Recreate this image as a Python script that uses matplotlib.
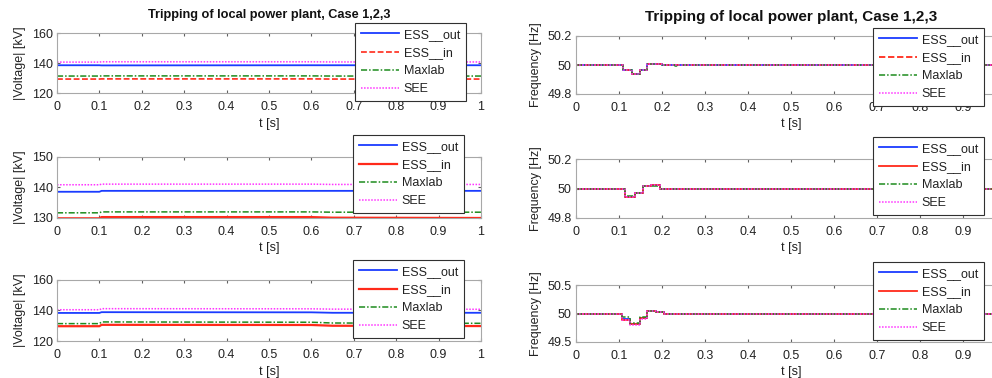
import matplotlib
matplotlib.use("Agg")
import matplotlib.pyplot as plt

plt.rcParams['font.family'] = ['Liberation Sans', 'DejaVu Sans']

W, H = 992, 378

title = "Tripping of local power plant, Case 1,2,3"
series_names = ["ESS__out", "ESS__in", "Maxlab", "SEE"]

# ---- Voltage data (kV) ----
t_v = [0.0, 0.1, 0.105, 0.6, 0.65, 1.0]
v1_out = [138.5, 138.5, 138.4, 138.5, 138.5, 138.5]
v1_in = [129.3, 129.3, 129.4, 129.4, 129.3, 129.3]
v1_max = [131.3, 131.3, 131.4, 131.4, 131.3, 131.3]
v1_see = [140.6, 140.6, 140.8, 140.8, 140.7, 140.7]

v2_out = [138.6, 138.6, 138.9, 138.9, 138.9, 138.9]
v2_in = [129.9, 129.9, 130.3, 130.3, 130.1, 130.0]
v2_max = [131.7, 131.7, 132.0, 132.0, 131.9, 131.9]
v2_see = [140.9, 140.9, 141.1, 141.1, 141.0, 141.0]

v3_out = [138.4, 138.4, 138.9, 138.8, 138.5, 138.5]
v3_in = [129.7, 129.7, 130.6, 130.5, 130.0, 129.8]
v3_max = [131.4, 131.4, 132.5, 132.3, 131.8, 131.6]
v3_see = [140.5, 140.5, 141.2, 141.1, 140.9, 140.8]

# ---- Frequency data (Hz), step-wise ----
t_f1 = [0.0, 0.109, 0.13, 0.149, 0.165, 0.2, 0.23, 0.24, 1.0]
f1_out = [50.0, 49.965, 49.936, 49.965, 50.007, 50.0, 50.0, 50.0, 50.0]
f1_in = [50.0, 49.967, 49.938, 49.967, 50.008, 50.0, 50.0, 50.0, 50.0]
f1_max = [50.0, 49.968, 49.94, 49.968, 50.01, 50.0, 49.99, 50.0, 50.0]
f1_see = [50.0, 49.965, 49.936, 49.965, 50.007, 50.0, 50.0, 50.0, 50.0]

t_f2 = [0.0, 0.114, 0.137, 0.156, 0.175, 0.195, 1.0]
f2_out = [50.0, 49.945, 49.967, 50.015, 50.025, 50.0, 50.0]
f2_in = [50.0, 49.945, 49.967, 50.015, 50.022, 50.0, 50.0]
f2_max = [50.0, 49.948, 49.968, 50.015, 50.02, 50.0, 50.0]
f2_see = [50.0, 49.945, 49.967, 50.015, 50.022, 50.0, 50.0]

t_f3 = [0.0, 0.106, 0.126, 0.149, 0.165, 0.185, 0.205, 1.0]
f3_out = [50.0, 49.91, 49.82, 49.92, 50.05, 50.03, 50.0, 50.0]
f3_in = [50.0, 49.88, 49.82, 49.92, 50.04, 50.02, 50.0, 50.0]
f3_max = [50.0, 49.93, 49.84, 49.93, 50.05, 50.03, 50.0, 50.0]
f3_see = [50.0, 49.89, 49.80, 49.91, 50.05, 50.03, 50.0, 50.0]

x_ticks = [0, 0.1, 0.2, 0.3, 0.4, 0.5, 0.6, 0.7, 0.8, 0.9, 1]
x_ticklabels = ["0", "0.1", "0.2", "0.3", "0.4", "0.5", "0.6", "0.7", "0.8", "0.9", "1"]
# the right-hand panels run past the figure edge, their last label is not visible
x_ticklabels_right = ["0", "0.1", "0.2", "0.3", "0.4", "0.5", "0.6", "0.7", "0.8", "0.9", ""]

v_ylims = [(120, 160), (130, 150), (120, 160)]
v_yticks = [[120, 140, 160], [130, 140, 150], [120, 140, 160]]
f_ylims = [(49.8, 50.2), (49.8, 50.2), (49.5, 50.5)]
f_yticks = [[49.8, 50, 50.2], [49.8, 50, 50.2], [49.5, 50, 50.5]]
f_yticklabels = [["49.8", "50", "50.2"], ["49.8", "50", "50.2"], ["49.5", "50", "50.5"]]

volt = [(v1_out, v1_in, v1_max, v1_see), (v2_out, v2_in, v2_max, v2_see), (v3_out, v3_in, v3_max, v3_see)]
freq = [(t_f1, f1_out, f1_in, f1_max, f1_see), (t_f2, f2_out, f2_in, f2_max, f2_see),
        (t_f3, f3_out, f3_in, f3_max, f3_see)]

C_BLUE = "#1a3cff"
C_RED = "#ff2a1a"
C_GREEN = "#1e8c1e"
C_MAG = "#ff33ff"

fig = plt.figure(figsize=(W / 100, H / 100), dpi=100)


def ax_at(x0, y0, x1, y1):
    return fig.add_axes([x0 / W, 1 - y1 / H, (x1 - x0) / W, (y1 - y0) / H])


def style(ax):
    for s in ax.spines.values():
        s.set_color("#a8a8a8")
        s.set_linewidth(0.8)
    ax.tick_params(direction="in", length=2.5, width=0.8, color="#606060",
                   labelsize=9, labelcolor="#222222", top=True, right=True)
    ax.tick_params(axis="x", pad=6)
    ax.tick_params(axis="y", pad=3)


def legend(ax, x0, y0):
    lg = ax.legend(loc="upper left", bbox_to_anchor=(x0 / W, 1 - y0 / H),
                   bbox_transform=fig.transFigure, borderaxespad=0, fontsize=9,
                   handlelength=3.1, handletextpad=0.35, labelspacing=0.5,
                   borderpad=0.45, fancybox=False, framealpha=1)
    lg.get_frame().set_edgecolor("#303030")
    lg.get_frame().set_linewidth(0.8)
    for tx in lg.get_texts():
        tx.set_color("#222222")
    return lg


left_boxes = [(57, 33, 481, 93), (57, 157, 481, 218), (57, 280, 481, 341)]
right_boxes = [(576, 36, 1006, 94), (576, 159, 1006, 218), (576, 285, 1006, 342)]
left_leg = [(355, 23), (353, 135), (353, 260)]
right_leg = [(873, 28), (873, 137), (873, 262)]

for i in range(3):
    # voltage panel
    ax = ax_at(*left_boxes[i])
    vo, vi, vm, vs = volt[i]
    in_solid = i > 0
    ax.plot(t_v, vo, color=C_BLUE, lw=1.3, label=series_names[0])
    ax.plot(t_v, vi, color=C_RED, lw=1.6 if in_solid else 1.2,
            ls="-" if in_solid else (0, (3.5, 1.5)), label=series_names[1])
    ax.plot(t_v, vm, color=C_GREEN, lw=1.1, ls=(0, (4, 1.3, 1, 1.3)), label=series_names[2])
    ax.plot(t_v, vs, color=C_MAG, lw=1.1, ls=(0, (1, 1)), label=series_names[3])
    ax.set_xlim(0, 1)
    ax.set_ylim(*v_ylims[i])
    ax.set_xticks(x_ticks)
    ax.set_xticklabels(x_ticklabels)
    ax.set_yticks(v_yticks[i])
    style(ax)
    ax.set_ylabel("|Voltage| [kV]", fontsize=9, color="#222222", labelpad=4)
    ax.set_xlabel("t [s]", fontsize=9, color="#222222", labelpad=3)
    if i == 0:
        ax.set_title(title, fontsize=9.2, fontweight="bold", color="#111111", pad=11)
    legend(ax, *left_leg[i])

    # frequency panel
    ax = ax_at(*right_boxes[i])
    tf, fo, fi, fm, fs = freq[i]
    ax.plot(tf, fo, color=C_BLUE, lw=1.3, drawstyle="steps-post", label=series_names[0])
    ax.plot(tf, fi, color=C_RED, lw=1.3, drawstyle="steps-post",
            ls="-" if in_solid else (0, (3.5, 1.5)), label=series_names[1])
    ax.plot(tf, fm, color=C_GREEN, lw=1.1, drawstyle="steps-post",
            ls=(0, (4, 1.3, 1, 1.3)), label=series_names[2])
    ax.plot(tf, fs, color=C_MAG, lw=1.1, drawstyle="steps-post", ls=(0, (1, 1)),
            label=series_names[3])
    ax.set_xlim(0, 1)
    ax.set_ylim(*f_ylims[i])
    ax.set_xticks(x_ticks)
    ax.set_xticklabels(x_ticklabels_right)
    ax.set_yticks(f_yticks[i])
    ax.set_yticklabels(f_yticklabels[i])
    style(ax)
    ax.set_ylabel("Frequency [Hz]", fontsize=9, color="#222222", labelpad=4)
    ax.set_xlabel("t [s]", fontsize=9, color="#222222", labelpad=3)
    if i == 0:
        ax.set_title(title, fontsize=11, fontweight="bold", color="#111111", pad=11)
    legend(ax, *right_leg[i])

fig.savefig("out.png", dpi=100)
